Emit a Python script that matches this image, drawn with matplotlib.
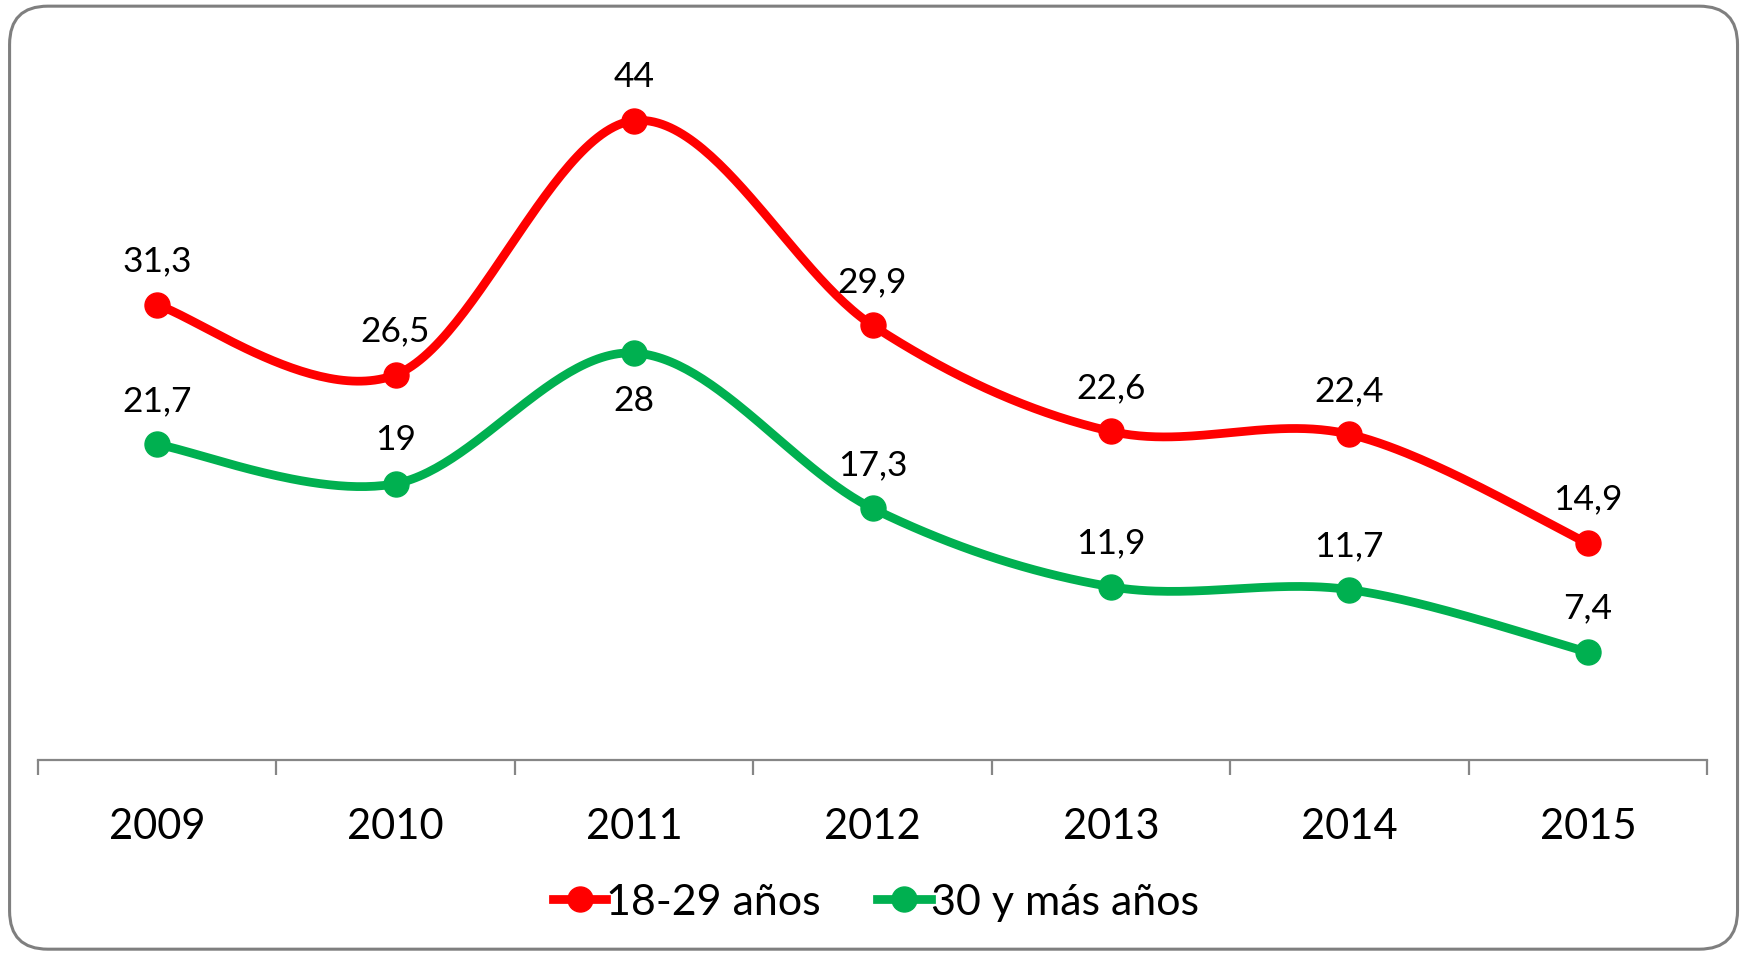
import matplotlib
matplotlib.use("Agg")
import matplotlib.pyplot as plt
from matplotlib.patches import FancyBboxPatch
from matplotlib.lines import Line2D
import numpy as np

plt.rcParams['font.family'] = ['Lato', 'DejaVu Sans']

years = ['2009', '2010', '2011', '2012', '2013', '2014', '2015']
joven = [31.3, 26.5, 44, 29.9, 22.6, 22.4, 14.9]
mayor = [21.7, 19, 28, 17.3, 11.9, 11.7, 7.4]
labels_joven = ['31,3', '26,5', '44', '29,9', '22,6', '22,4', '14,9']
labels_mayor = ['21,7', '19', '28', '17,3', '11,9', '11,7', '7,4']
series_names = ['18-29 años', '30 y más años']
colors = ['#FF0000', '#00B050']


def smooth(xs, ys, n=60):
    # catmull-rom style bezier, like excel smoothed lines
    pts = np.column_stack([xs, ys]).astype(float)
    out = []
    for i in range(len(pts) - 1):
        p0 = pts[i - 1] if i > 0 else pts[i]
        p1 = pts[i]
        p2 = pts[i + 1]
        p3 = pts[i + 2] if i + 2 < len(pts) else pts[i + 1]
        c1 = p1 + (p2 - p0) / 6.0
        c2 = p2 - (p3 - p1) / 6.0
        t = np.linspace(0, 1, n)[:, None]
        seg = ((1 - t) ** 3) * p1 + 3 * ((1 - t) ** 2) * t * c1 + 3 * (1 - t) * t ** 2 * c2 + t ** 3 * p2
        out.append(seg if i == 0 else seg[1:])
    out = np.vstack(out)
    return out[:, 0], out[:, 1]


fig = plt.figure(figsize=(17.41, 9.54), dpi=100)
ax = fig.add_axes([0.0218, 0.2028, 0.9587, 0.761])

x = np.arange(len(years))
lw = 6.3
ms = 18

for vals, labs, col, name in [(joven, labels_joven, colors[0], series_names[0]),
                              (mayor, labels_mayor, colors[1], series_names[1])]:
    sx, sy = smooth(x, vals)
    ax.plot(sx, sy, color=col, lw=lw, solid_capstyle='round', zorder=3)
    ax.plot(x, vals, 'o', color=col, ms=ms, zorder=4)
    for xi, v, lab in zip(x, vals, labs):
        below = (name == series_names[1] and lab == '28')
        off = -34 if below else 32
        ax.annotate(lab, (xi, v), xytext=(0, off), textcoords='offset points',
                    ha='center', va='center', fontsize=25.5, color='black')

ax.set_xlim(-0.5, len(years) - 0.5)
ax.set_ylim(0, 50)
ax.set_yticks([])
for s in ['top', 'left', 'right']:
    ax.spines[s].set_visible(False)
ax.spines['bottom'].set_color('#868686')
ax.spines['bottom'].set_linewidth(1.6)

ax.set_xticks(x)
ax.set_xticklabels(years, fontsize=30)
ax.tick_params(axis='x', which='major', length=0, pad=34)
ax.set_xticks(np.arange(-0.5, len(years)), minor=True)
ax.tick_params(axis='x', which='minor', length=11, width=1.6, color='#868686')

handles = [Line2D([0], [0], color=c, lw=lw, marker='o', ms=ms) for c in colors]
fig.legend(handles, series_names, loc='center', bbox_to_anchor=(0.503, 0.053),
           ncol=2, frameon=False, fontsize=31, handlelength=1.25, handletextpad=0.0,
           columnspacing=1.3)

border = FancyBboxPatch((0.0055, 0.004), 0.9925, 0.9885,
                        boxstyle='round,pad=0,rounding_size=0.022',
                        transform=fig.transFigure, fill=False,
                        edgecolor='#7F7F7F', linewidth=2.2, mutation_aspect=1.825)
fig.patches.append(border)

fig.savefig('out.png', dpi=100)
